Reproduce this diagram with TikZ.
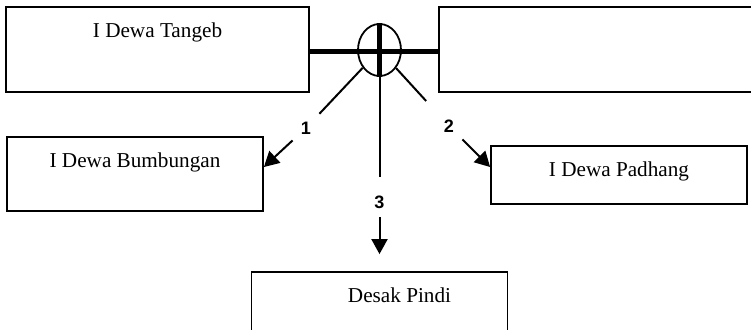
\documentclass[tikz,border=0pt]{standalone}
\usepackage{fontspec}
\setmainfont{Liberation Serif}
\newfontfamily\numfont{Liberation Sans}
\usetikzlibrary{shapes, arrows.meta}
\tikzstyle{person} = [rectangle, draw=black, line width=0.9pt, inner sep=0pt, text centered, font=\fontsize{10.6}{13}\selectfont]
\tikzstyle{marriage} = [ellipse, draw=black, line width=0.9pt, minimum width=21.5pt, minimum height=26pt, inner sep=0pt]
\tikzstyle{bond} = [line width=2.5pt]
\tikzstyle{line} = [line width=1pt]
\tikzstyle{arrow} = [line width=1pt, -{Triangle[length=7.5pt,width=8pt]}]
\tikzstyle{childno} = [inner sep=4pt, font=\numfont\bfseries\fontsize{9}{10}\selectfont]

\begin{document}
\begin{tikzpicture}[x=0.5pt, y=-0.5pt]
    \useasboundingbox (0,0) rectangle (751,330);
    \node (tangeb) [person, minimum width=151.5pt, text height=15.25pt, text depth=27.25pt] at (157.5,49.5) {I Dewa Tangeb};
    \node (spouse) [person, minimum width=160.5pt, text height=15.25pt, text depth=27.25pt] at (599.5,49.5) {};
    \node (couple) [marriage] at (379.5,50) {};
    \node (bumbungan) [person, minimum width=128pt, text height=15.5pt, text depth=21.5pt] at (135,174) {I Dewa Bumbungan};
    \node (padhang) [person, minimum width=128pt, text height=15.5pt, text depth=13.5pt] at (619,175) {I Dewa Padhang};
    \node (pindi) [person, minimum width=128pt, text height=15.5pt, text depth=19.5pt] at (379.5,307) {\hspace*{20pt}Desak Pindi};

    \node (one) [childno] at (306,128) {1};
    \node (two) [childno] at (449,126) {2};
    \node (three) [childno] at (379.5,202) {3};

    \draw [bond] ([yshift=-1.25pt]tangeb.east) -- ([yshift=-1.25pt]spouse.west);
    \draw [bond] (couple.north) -- (couple.south);
    \draw [line] (couple) -- (one);
    \draw [arrow] (one) -- ([yshift=3.5pt]bumbungan.east);
    \draw [line, shorten >=7pt] (couple) -- (two);
    \draw [arrow] (two) -- ([yshift=4pt]padhang.west);
    \draw [line, shorten >=5pt] (couple.south) -- (three);
    \draw [arrow, shorten >=8.5pt] (three) -- (pindi);
\end{tikzpicture}
\end{document}
